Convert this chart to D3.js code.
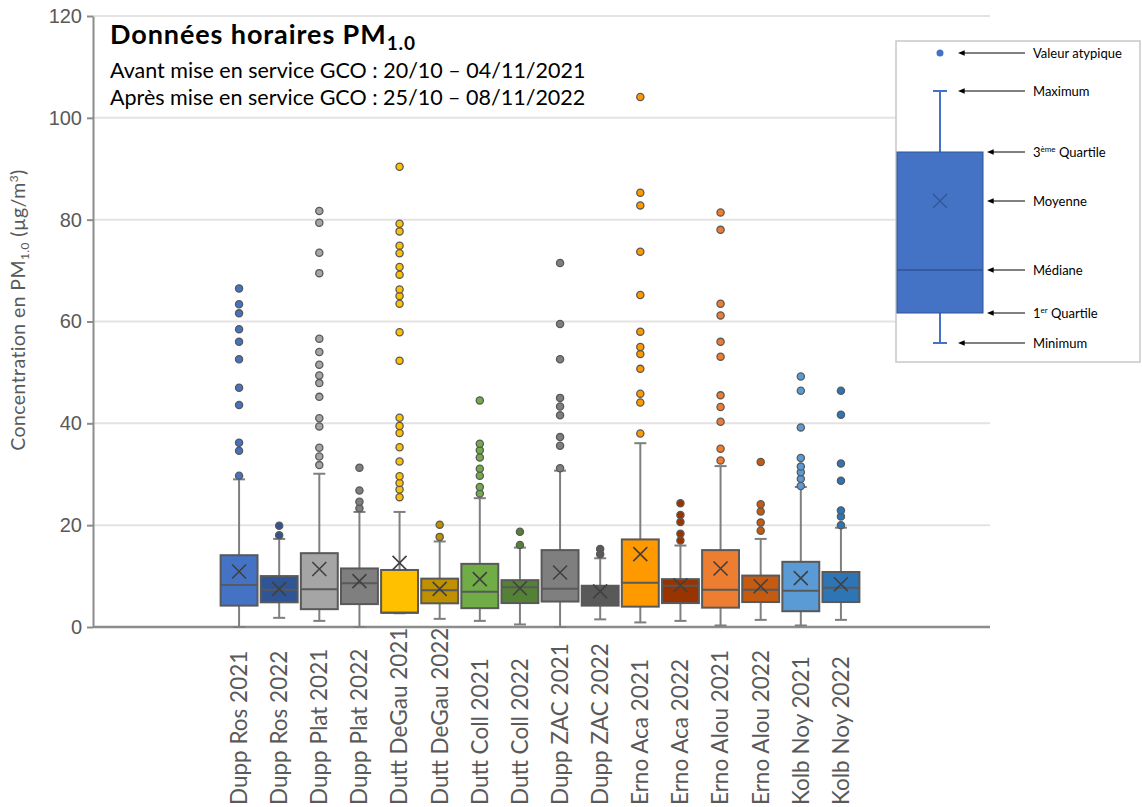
<!DOCTYPE html>
<meta charset="utf-8">
<style>
body { margin: 0; background: #fff; }
svg { font-family: Lato, "Open Sans", sans-serif; }
.grid line { stroke: #e3e3e3; stroke-width: 2; }
.axis path, .axis line { stroke: #8c8c8c; stroke-width: 2; }
.axis text { fill: #595959; font-size: 20px; }
</style>
<div id="chart"></div>
<script src="https://cdn.jsdelivr.net/npm/d3@7"></script>
<script>

// stations / years
var categories = ["Dupp Ros 2021","Dupp Ros 2022","Dupp Plat 2021","Dupp Plat 2022",
  "Dutt DeGau 2021","Dutt DeGau 2022","Dutt Coll 2021","Dutt Coll 2022",
  "Dupp ZAC 2021","Dupp ZAC 2022","Erno Aca 2021","Erno Aca 2022",
  "Erno Alou 2021","Erno Alou 2022","Kolb Noy 2021","Kolb Noy 2022"]

var boxColors = ["#4472C4","#2F5597","#A5A5A5","#7F7F7F","#FFC000","#BF9000","#70AD47","#548235",
  "#7F7F7F","#595959","#FF9900","#993300","#ED7D31","#C55A11","#5B9BD5","#2E75B6"]

var whiskerLow  = [0, 1.8, 1.2, 0, 2.7, 1.6, 1.2, 0.5, 0, 1.5, 0.9, 1.2, 0.3, 1.4, 0.3, 1.4]
var q1          = [4.2, 4.85, 3.5, 4.5, 2.8, 4.65, 3.7, 4.7, 5.0, 4.2, 4.0, 4.7, 3.8, 4.9, 3.1, 4.9]
var median      = [8.25, 7.3, 7.4, 8.6, 2.8, 7.2, 6.9, 7.8, 7.5, 7.3, 8.7, 8.1, 7.3, 7.3, 7.1, 7.7]
var q3          = [14.1, 10.0, 14.5, 11.5, 11.2, 9.5, 12.4, 9.2, 15.1, 8.1, 17.2, 9.4, 15.1, 10.1, 12.8, 10.8]
var whiskerHigh = [29.0, 17.3, 30.1, 22.6, 22.6, 16.8, 25.3, 15.6, 30.7, 13.5, 36.1, 16.0, 31.6, 17.3, 27.5, 19.5]
var mean        = [10.9, 7.5, 11.4, 9.0, 12.6, 7.5, 9.4, 7.6, 10.7, 7.0, 14.3, 8.2, 11.5, 8.0, 9.6, 8.4]

var outliers = [
  [29.7, 34.6, 36.2, 43.6, 47.0, 52.6, 56.0, 58.5, 61.6, 63.4, 66.5],
  [18.0, 19.9],
  [31.8, 33.5, 35.2, 39.4, 41.0, 45.2, 47.9, 49.4, 51.5, 54.0, 56.6, 69.5, 73.5, 79.4, 81.7],
  [23.3, 24.6, 26.8, 31.3],
  [25.5, 27.0, 28.3, 29.6, 32.5, 35.3, 38.1, 39.5, 41.1, 52.3, 57.9, 63.5, 65.0, 66.3, 69.2, 70.7, 73.4, 74.9, 77.7, 79.2, 90.4],
  [17.7, 20.1],
  [26.2, 27.5, 29.7, 31.1, 33.3, 34.7, 36.0, 44.5],
  [16.1, 18.7],
  [31.2, 35.6, 37.3, 41.6, 43.3, 45.0, 52.6, 59.5, 71.5],
  [14.3, 15.3],
  [38.0, 44.1, 45.8, 50.7, 53.6, 55.0, 58.0, 65.2, 73.7, 82.8, 85.3, 104.1],
  [17.0, 18.3, 20.6, 22.0, 24.3],
  [32.7, 35.0, 40.3, 43.2, 45.5, 53.1, 56.0, 61.2, 63.5, 78.0, 81.4],
  [18.9, 20.5, 22.7, 24.1, 32.4],
  [27.7, 29.1, 30.4, 31.5, 33.2, 39.2, 46.4, 49.2],
  [20.0, 21.7, 22.9, 28.7, 32.1, 41.7, 46.4]
]

var yTicks = [0, 20, 40, 60, 80, 100, 120]

var legendLabels = ["Valeur atypique", "Maximum", "3|ème| Quartile", "Moyenne", "Médiane", "1|er| Quartile", "Minimum"]

var width = 1142, height = 807

var svg = d3.select("#chart").append("svg")
    .attr("width", width)
    .attr("height", height)

var defs = svg.append("defs")
defs.append("marker")
    .attr("id", "arrow")
    .attr("viewBox", "0 0 10 10")
    .attr("refX", 1).attr("refY", 5)
    .attr("markerWidth", 7).attr("markerHeight", 7)
    .attr("orient", "auto-start-reverse")
  .append("path")
    .attr("d", "M0,1 L10,5 L0,9 z")
    .attr("fill", "#000")

var y = d3.scaleLinear().domain([0, 120]).range([627, 16])
var x = d3.scaleBand().domain(categories).range([219, 861]).paddingInner(0.08).paddingOuter(0.04)
var color = d3.scaleOrdinal().domain(categories).range(boxColors)

// gridlines
svg.append("g").attr("class", "grid")
  .selectAll("line")
  .data(yTicks.filter(function(d){ return d > 0 }))
  .enter().append("line")
    .attr("x1", 93).attr("x2", 990)
    .attr("y1", function(d){ return y(d) })
    .attr("y2", function(d){ return y(d) })

// axes
var yAxis = svg.append("g").attr("class", "axis")
    .attr("transform", "translate(93,0)")
    .call(d3.axisLeft(y).tickValues(yTicks).tickSize(6).tickPadding(5).tickSizeOuter(0))
yAxis.select(".domain").attr("stroke-width", 2)

svg.append("line")
    .attr("x1", 93).attr("x2", 990)
    .attr("y1", y(0)).attr("y2", y(0))
    .attr("stroke", "#8c8c8c").attr("stroke-width", 2.5)

var yTitle = svg.append("text")
    .attr("transform", "translate(25," + 310 + ") rotate(-90)")
    .attr("text-anchor", "middle")
    .attr("fill", "#595959")
    .attr("font-size", 19.5)
    .attr("letter-spacing", 0.4)
yTitle.append("tspan").text("Concentration en PM")
yTitle.append("tspan").attr("font-size", 12).attr("dy", 4).text("1.0")
yTitle.append("tspan").attr("dy", -4).text(" (µg/m")
yTitle.append("tspan").attr("dy", -7).attr("font-size", 12).text("3")
yTitle.append("tspan").attr("dy", 7).text(")")

// x labels
svg.append("g").selectAll("text")
  .data(categories)
  .enter().append("text")
    .attr("transform", function(d){ return "translate(" + (x(d) + x.bandwidth() / 2) + ",805) rotate(-90)" })
    .attr("dy", "0.35em")
    .attr("fill", "#595959")
    .attr("font-size", 22.5)
    .text(function(d){ return d })

// boxes
var boxes = svg.append("g").selectAll("g")
  .data(categories)
  .enter().append("g")

var cx = function(i){ return x(categories[i]) + x.bandwidth() / 2 }

boxes.append("line")
    .attr("x1", function(d, i){ return cx(i) }).attr("x2", function(d, i){ return cx(i) })
    .attr("y1", function(d, i){ return y(whiskerLow[i]) })
    .attr("y2", function(d, i){ return y(whiskerHigh[i]) })
    .attr("stroke", "#7f7f7f").attr("stroke-width", 2)

boxes.selectAll(".cap")
  .data(function(d, i){ return [[i, whiskerLow[i]], [i, whiskerHigh[i]]] })
  .enter().append("line")
    .attr("x1", function(d){ return cx(d[0]) - 6 }).attr("x2", function(d){ return cx(d[0]) + 6 })
    .attr("y1", function(d){ return y(d[1]) }).attr("y2", function(d){ return y(d[1]) })
    .attr("stroke", "#7f7f7f").attr("stroke-width", 2)

boxes.append("rect")
    .attr("x", function(d){ return x(d) })
    .attr("width", x.bandwidth())
    .attr("y", function(d, i){ return y(q3[i]) })
    .attr("height", function(d, i){ return y(q1[i]) - y(q3[i]) })
    .attr("fill", function(d){ return color(d) })
    .attr("stroke", "#595959").attr("stroke-width", 2)

boxes.append("line")
    .attr("x1", function(d){ return x(d) }).attr("x2", function(d){ return x(d) + x.bandwidth() })
    .attr("y1", function(d, i){ return y(median[i]) }).attr("y2", function(d, i){ return y(median[i]) })
    .attr("stroke", "#595959").attr("stroke-width", 2)

boxes.append("path")
    .attr("d", function(d, i){
      var px = cx(i), py = y(mean[i]), s = 7
      return "M" + (px - s) + "," + (py - s) + "L" + (px + s) + "," + (py + s) +
             "M" + (px - s) + "," + (py + s) + "L" + (px + s) + "," + (py - s)
    })
    .attr("stroke", "#404040").attr("stroke-width", 1.6).attr("fill", "none")

boxes.selectAll("circle")
  .data(function(d, i){ return outliers[i].map(function(v){ return [i, v] }) })
  .enter().append("circle")
    .attr("cx", function(d){ return cx(d[0]) })
    .attr("cy", function(d){ return y(d[1]) })
    .attr("r", 3.6)
    .attr("fill", function(d){ return boxColors[d[0]] })
    .attr("stroke", "#595959").attr("stroke-width", 1.3)

// title
var title = svg.append("text")
    .attr("x", 110).attr("y", 44)
    .attr("font-size", 27).attr("font-weight", "bold").attr("fill", "#000")
    .attr("letter-spacing", 0.9)
    .text("Données horaires PM")
title.append("tspan").attr("dy", 6).attr("font-size", 19).text("1.0")

svg.append("text").attr("x", 110).attr("y", 78).attr("font-size", 21.5).attr("fill", "#000")
    .text("Avant mise en service GCO : 20/10 – 04/11/2021")
svg.append("text").attr("x", 110).attr("y", 105).attr("font-size", 21.5).attr("fill", "#000")
    .text("Après mise en service GCO : 25/10 – 08/11/2022")

// legend
var lg = svg.append("g")
lg.append("rect")
    .attr("x", 896).attr("y", 41).attr("width", 244).attr("height", 321)
    .attr("fill", "#fff").attr("stroke", "#c8c8c8").attr("stroke-width", 1.5)

var lx = 940, ly = [53, 91, 152, 201, 270, 313, 343]
lg.append("line").attr("x1", lx).attr("x2", lx).attr("y1", ly[1]).attr("y2", ly[6])
    .attr("stroke", "#4472C4").attr("stroke-width", 2)
lg.selectAll(".lcap").data([ly[1], ly[6]]).enter().append("line")
    .attr("x1", lx - 7).attr("x2", lx + 7).attr("y1", function(d){ return d }).attr("y2", function(d){ return d })
    .attr("stroke", "#4472C4").attr("stroke-width", 2)
lg.append("rect").attr("x", 897).attr("y", ly[2]).attr("width", 86).attr("height", ly[5] - ly[2])
    .attr("fill", "#4472C4").attr("stroke", "#2F5597").attr("stroke-width", 1)
lg.append("line").attr("x1", 897).attr("x2", 983).attr("y1", ly[4]).attr("y2", ly[4])
    .attr("stroke", "#2F5597").attr("stroke-width", 1.5)
lg.append("path")
    .attr("d", "M" + (lx - 7) + "," + (ly[3] - 7) + "L" + (lx + 7) + "," + (ly[3] + 7) +
               "M" + (lx - 7) + "," + (ly[3] + 7) + "L" + (lx + 7) + "," + (ly[3] - 7))
    .attr("stroke", "#2F5597").attr("stroke-width", 1.3)
lg.append("circle").attr("cx", lx).attr("cy", ly[0]).attr("r", 3.5).attr("fill", "#4472C4")

lg.selectAll(".arrow").data(legendLabels).enter().append("line")
    .attr("x1", 1025)
    .attr("x2", function(d, i){ return (i >= 2 && i <= 5) ? 993 : 964 })
    .attr("y1", function(d, i){ return ly[i] }).attr("y2", function(d, i){ return ly[i] })
    .attr("stroke", "#000").attr("stroke-width", 1)
    .attr("marker-end", "url(#arrow)")

lg.selectAll(".ltext").data(legendLabels).enter().append("text")
    .attr("x", 1033).attr("y", function(d, i){ return ly[i] + 4.5 })
    .attr("font-size", 13).attr("fill", "#000")
    .each(function(d){
      var parts = d.split("|"), t = d3.select(this)
      t.append("tspan").text(parts[0])
      if (parts.length > 1) {
        t.append("tspan").attr("dy", -5).attr("font-size", 8).text(parts[1])
        t.append("tspan").attr("dy", 5).text(parts[2])
      }
    })

</script>
